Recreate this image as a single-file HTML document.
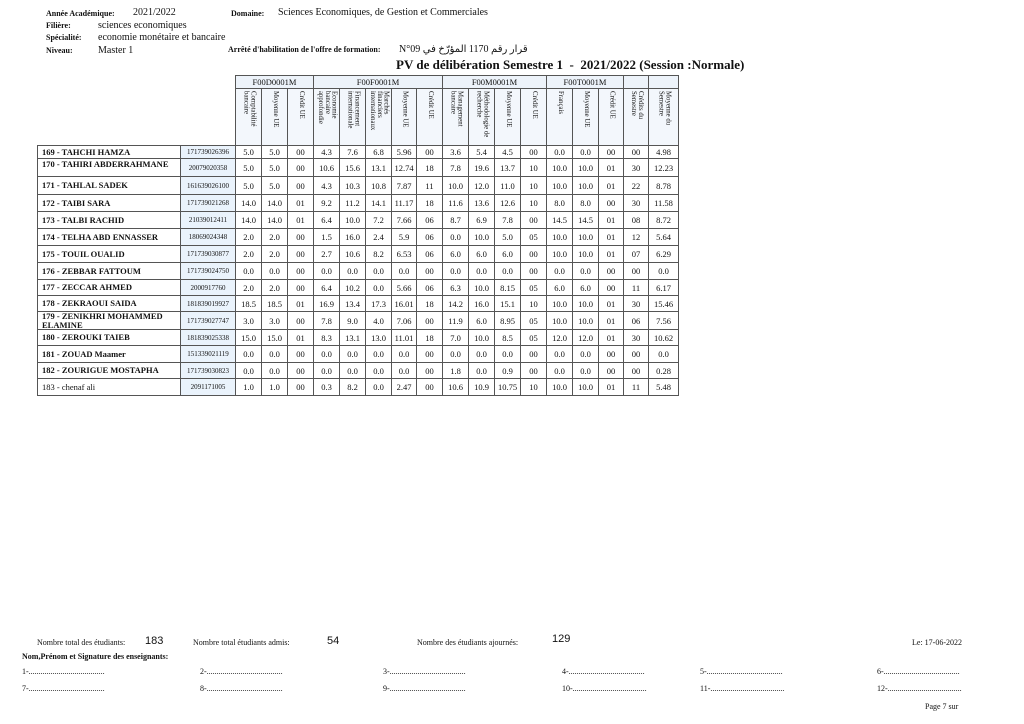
<!DOCTYPE html>
<html><head><meta charset="utf-8"><style>
body{margin:0;width:1024px;height:724px;background:#fff;position:relative;font-family:"Liberation Serif",serif;color:#111;overflow:hidden}
.a{position:absolute;white-space:nowrap;line-height:1}
.b{font-weight:bold;font-size:8px}
.v{font-size:10px}
table{position:absolute;left:37px;top:75px;border-collapse:collapse;table-layout:fixed;font-size:8.5px}
td{border:1px solid #555;padding:0;text-align:center;white-space:nowrap;overflow:hidden}
.h{background:#edf3fa;font-size:8.5px}
.vt{height:56px;vertical-align:top;background:#f3f7fc;text-align:center}
.vt div{writing-mode:vertical-rl;font-size:6.8px;line-height:1;height:52px;margin-top:2px;text-align:left;display:inline-block}
.nm{text-align:left;padding-left:4px;font-size:8.5px;font-weight:bold;white-space:normal;line-height:1}
.id{background:#eaf3fc;font-size:7px}
.s{font-family:"Liberation Sans",sans-serif;font-size:11px}
.f{font-size:8px}
</style></head><body>
<div class="a b" style="left:46px;top:10px">Année Académique:</div>
<div class="a v" style="left:133px;top:8px">2021/2022</div>
<div class="a b" style="left:231px;top:10px">Domaine:</div>
<div class="a v" style="left:278px;top:8px">Sciences Economiques, de Gestion et Commerciales</div>
<div class="a b" style="left:46px;top:22px">Filière:</div>
<div class="a v" style="left:98px;top:21px">sciences economiques</div>
<div class="a b" style="left:46px;top:34px">Spécialité:</div>
<div class="a v" style="left:98px;top:33px">economie monétaire et bancaire</div>
<div class="a b" style="left:46px;top:47px">Niveau:</div>
<div class="a v" style="left:98px;top:46px">Master 1</div>
<div class="a b" style="left:228px;top:46px">Arrêté d'habilitation de l'offre de formation:</div>
<div class="a v" style="left:399px;top:45px;font-family:'Liberation Serif','DejaVu Sans',serif">N°09 قرار رقم 1170 المؤرّخ في</div>
<div class="a" style="left:396px;top:58px;font-size:13px;font-weight:bold">PV de délibération Semestre 1 &nbsp;- &nbsp;2021/2022 (Session :Normale)</div>

<table>
<colgroup><col style="width:143px"><col style="width:55px">
<col style="width:26px"><col style="width:26px"><col style="width:26px"><col style="width:26px"><col style="width:26px"><col style="width:26px"><col style="width:25px"><col style="width:26px"><col style="width:26px"><col style="width:26px"><col style="width:26px"><col style="width:26px"><col style="width:26px"><col style="width:26px"><col style="width:25px"><col style="width:25px"><col style="width:30px"></colgroup>
<tr style="height:13px"><td style="border:none"></td><td style="border:none"></td><td class="h" colspan="3">F00D0001M</td><td class="h" colspan="5">F00F0001M</td><td class="h" colspan="4">F00M0001M</td><td class="h" colspan="3">F00T0001M</td><td class="h"></td><td class="h"></td></tr>
<tr style="height:56px"><td style="border:none;border-bottom:1px solid #555"></td><td style="border:none;border-bottom:1px solid #555"></td>
<td class="vt"><div>Comptabilité<br>bancaire</div></td><td class="vt"><div>Moyenne UE</div></td><td class="vt"><div>Crédit UE</div></td>
<td class="vt"><div>Economie<br>bancaire<br>approfondie</div></td><td class="vt"><div>Financement<br>internationale</div></td><td class="vt"><div>Marchés<br>financiers<br>internationaux</div></td><td class="vt"><div>Moyenne UE</div></td><td class="vt"><div>Crédit UE</div></td>
<td class="vt"><div>Management<br>bancaire</div></td><td class="vt"><div>Méthodologie de<br>recherche</div></td><td class="vt"><div>Moyenne UE</div></td><td class="vt"><div>Crédit UE</div></td>
<td class="vt"><div>Français</div></td><td class="vt"><div>Moyenne UE</div></td><td class="vt"><div>Crédit UE</div></td>
<td class="vt"><div>Crédits du<br>Semestre</div></td><td class="vt"><div>Moyenne du<br>Semestre</div></td></tr>
<tr style="height:13px"><td class="nm">169 - TAHCHI HAMZA</td><td class="id">171739026396</td><td>5.0</td><td>5.0</td><td>00</td><td>4.3</td><td>7.6</td><td>6.8</td><td>5.96</td><td>00</td><td>3.6</td><td>5.4</td><td>4.5</td><td>00</td><td>0.0</td><td>0.0</td><td>00</td><td>00</td><td>4.98</td></tr>
<tr style="height:18px"><td class="nm" style="vertical-align:top;padding-top:1px">170 - TAHIRI ABDERRAHMANE</td><td class="id">20079020358</td><td>5.0</td><td>5.0</td><td>00</td><td>10.6</td><td>15.6</td><td>13.1</td><td>12.74</td><td>18</td><td>7.8</td><td>19.6</td><td>13.7</td><td>10</td><td>10.0</td><td>10.0</td><td>01</td><td>30</td><td>12.23</td></tr>
<tr style="height:18px"><td class="nm">171 - TAHLAL SADEK</td><td class="id">161639026100</td><td>5.0</td><td>5.0</td><td>00</td><td>4.3</td><td>10.3</td><td>10.8</td><td>7.87</td><td>11</td><td>10.0</td><td>12.0</td><td>11.0</td><td>10</td><td>10.0</td><td>10.0</td><td>01</td><td>22</td><td>8.78</td></tr>
<tr style="height:17px"><td class="nm">172 - TAIBI SARA</td><td class="id">171739021268</td><td>14.0</td><td>14.0</td><td>01</td><td>9.2</td><td>11.2</td><td>14.1</td><td>11.17</td><td>18</td><td>11.6</td><td>13.6</td><td>12.6</td><td>10</td><td>8.0</td><td>8.0</td><td>00</td><td>30</td><td>11.58</td></tr>
<tr style="height:17px"><td class="nm">173 - TALBI RACHID</td><td class="id">21039012411</td><td>14.0</td><td>14.0</td><td>01</td><td>6.4</td><td>10.0</td><td>7.2</td><td>7.66</td><td>06</td><td>8.7</td><td>6.9</td><td>7.8</td><td>00</td><td>14.5</td><td>14.5</td><td>01</td><td>08</td><td>8.72</td></tr>
<tr style="height:17px"><td class="nm">174 - TELHA ABD ENNASSER</td><td class="id">18069024348</td><td>2.0</td><td>2.0</td><td>00</td><td>1.5</td><td>16.0</td><td>2.4</td><td>5.9</td><td>06</td><td>0.0</td><td>10.0</td><td>5.0</td><td>05</td><td>10.0</td><td>10.0</td><td>01</td><td>12</td><td>5.64</td></tr>
<tr style="height:17px"><td class="nm">175 - TOUIL OUALID</td><td class="id">171739030877</td><td>2.0</td><td>2.0</td><td>00</td><td>2.7</td><td>10.6</td><td>8.2</td><td>6.53</td><td>06</td><td>6.0</td><td>6.0</td><td>6.0</td><td>00</td><td>10.0</td><td>10.0</td><td>01</td><td>07</td><td>6.29</td></tr>
<tr style="height:17px"><td class="nm">176 - ZEBBAR FATTOUM</td><td class="id">171739024750</td><td>0.0</td><td>0.0</td><td>00</td><td>0.0</td><td>0.0</td><td>0.0</td><td>0.0</td><td>00</td><td>0.0</td><td>0.0</td><td>0.0</td><td>00</td><td>0.0</td><td>0.0</td><td>00</td><td>00</td><td>0.0</td></tr>
<tr style="height:16px"><td class="nm">177 - ZECCAR AHMED</td><td class="id">2000917760</td><td>2.0</td><td>2.0</td><td>00</td><td>6.4</td><td>10.2</td><td>0.0</td><td>5.66</td><td>06</td><td>6.3</td><td>10.0</td><td>8.15</td><td>05</td><td>6.0</td><td>6.0</td><td>00</td><td>11</td><td>6.17</td></tr>
<tr style="height:16px"><td class="nm">178 - ZEKRAOUI SAIDA</td><td class="id">181839019927</td><td>18.5</td><td>18.5</td><td>01</td><td>16.9</td><td>13.4</td><td>17.3</td><td>16.01</td><td>18</td><td>14.2</td><td>16.0</td><td>15.1</td><td>10</td><td>10.0</td><td>10.0</td><td>01</td><td>30</td><td>15.46</td></tr>
<tr style="height:17px"><td class="nm">179 - ZENIKHRI MOHAMMED ELAMINE</td><td class="id">171739027747</td><td>3.0</td><td>3.0</td><td>00</td><td>7.8</td><td>9.0</td><td>4.0</td><td>7.06</td><td>00</td><td>11.9</td><td>6.0</td><td>8.95</td><td>05</td><td>10.0</td><td>10.0</td><td>01</td><td>06</td><td>7.56</td></tr>
<tr style="height:16px"><td class="nm">180 - ZEROUKI TAIEB</td><td class="id">181839025338</td><td>15.0</td><td>15.0</td><td>01</td><td>8.3</td><td>13.1</td><td>13.0</td><td>11.01</td><td>18</td><td>7.0</td><td>10.0</td><td>8.5</td><td>05</td><td>12.0</td><td>12.0</td><td>01</td><td>30</td><td>10.62</td></tr>
<tr style="height:17px"><td class="nm">181 - ZOUAD Maamer</td><td class="id">151339021119</td><td>0.0</td><td>0.0</td><td>00</td><td>0.0</td><td>0.0</td><td>0.0</td><td>0.0</td><td>00</td><td>0.0</td><td>0.0</td><td>0.0</td><td>00</td><td>0.0</td><td>0.0</td><td>00</td><td>00</td><td>0.0</td></tr>
<tr style="height:16px"><td class="nm">182 - ZOURIGUE MOSTAPHA</td><td class="id">171739030823</td><td>0.0</td><td>0.0</td><td>00</td><td>0.0</td><td>0.0</td><td>0.0</td><td>0.0</td><td>00</td><td>1.8</td><td>0.0</td><td>0.9</td><td>00</td><td>0.0</td><td>0.0</td><td>00</td><td>00</td><td>0.28</td></tr>
<tr style="height:17px"><td class="nm" style="font-weight:normal">183 - chenaf ali</td><td class="id">2091171005</td><td>1.0</td><td>1.0</td><td>00</td><td>0.3</td><td>8.2</td><td>0.0</td><td>2.47</td><td>00</td><td>10.6</td><td>10.9</td><td>10.75</td><td>10</td><td>10.0</td><td>10.0</td><td>01</td><td>11</td><td>5.48</td></tr>
</table>

<div class="a f" style="left:37px;top:639px">Nombre total des étudiants:</div>
<div class="a s" style="left:145px;top:636px">183</div>
<div class="a f" style="left:193px;top:639px">Nombre total étudiants admis:</div>
<div class="a s" style="left:327px;top:636px">54</div>
<div class="a f" style="left:417px;top:639px">Nombre des étudiants ajournés:</div>
<div class="a s" style="left:552px;top:634px">129</div>
<div class="a f" style="left:912px;top:639px">Le: 17-06-2022</div>
<div class="a f" style="left:22px;top:653px;font-weight:bold">Nom,Prénom et Signature des enseignants:</div>
<div class="a f" style="left:22px;top:668px">1-......................................</div>
<div class="a f" style="left:200px;top:668px">2-......................................</div>
<div class="a f" style="left:383px;top:668px">3-......................................</div>
<div class="a f" style="left:562px;top:668px">4-......................................</div>
<div class="a f" style="left:700px;top:668px">5-......................................</div>
<div class="a f" style="left:877px;top:668px">6-......................................</div>
<div class="a f" style="left:22px;top:685px">7-......................................</div>
<div class="a f" style="left:200px;top:685px">8-......................................</div>
<div class="a f" style="left:383px;top:685px">9-......................................</div>
<div class="a f" style="left:562px;top:685px">10-.....................................</div>
<div class="a f" style="left:700px;top:685px">11-.....................................</div>
<div class="a f" style="left:877px;top:685px">12-.....................................</div>
<div class="a f" style="left:925px;top:703px">Page 7 sur</div>
</body></html>
